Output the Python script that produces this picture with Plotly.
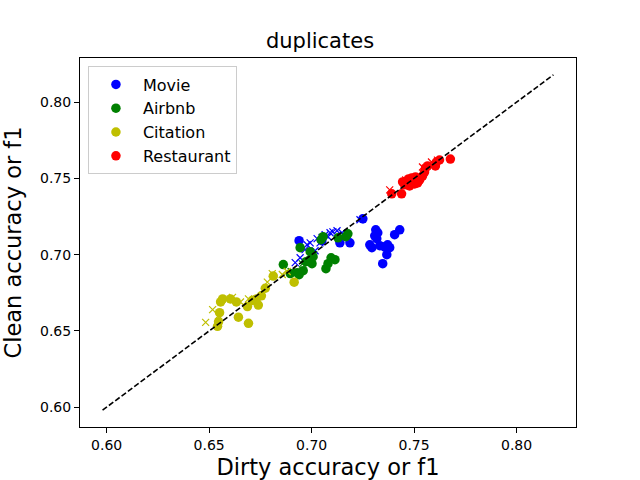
import plotly.graph_objects as go

# Data (dirty, clean) for each dataset: circles and x markers
movie_o_x = [0.7250, 0.7313, 0.7323, 0.7308, 0.7318, 0.7284, 0.7294, 0.7333, 0.7357, 0.7371,
             0.7381, 0.7367, 0.7347, 0.7405, 0.7430, 0.7187, 0.6939, 0.7050, 0.7138]
movie_o_y = [0.7235, 0.7163, 0.7144, 0.7124, 0.7105, 0.7065, 0.7046, 0.7059, 0.7052, 0.7065,
             0.7046, 0.7000, 0.6941, 0.7131, 0.7163, 0.7078, 0.7092, 0.7092, 0.7078]
movie_x_x = [0.6920, 0.6944, 0.6968, 0.6978, 0.6993, 0.7017, 0.7027, 0.7041, 0.7051, 0.7066,
             0.7080, 0.7090, 0.7104, 0.7124, 0.7148, 0.7236]
movie_x_y = [0.6948, 0.6980, 0.7033, 0.7065, 0.7078, 0.7026, 0.7105, 0.7078, 0.7111, 0.7131,
             0.7118, 0.7144, 0.7150, 0.7157, 0.7144, 0.7229]

airbnb_o_x = [0.6862, 0.6896, 0.6930, 0.6939, 0.6959, 0.6973, 0.6993, 0.7002, 0.7007, 0.6993,
              0.7070, 0.7080, 0.7095, 0.7114, 0.7046, 0.7056, 0.7129, 0.7167, 0.7177, 0.6944]
airbnb_o_y = [0.6935, 0.6876, 0.6882, 0.6869, 0.6895, 0.6954, 0.6967, 0.6941, 0.6987, 0.7020,
              0.6908, 0.6941, 0.6980, 0.6967, 0.7098, 0.7118, 0.7111, 0.7118, 0.7137, 0.7046]
airbnb_x_x = [0.6900, 0.6955, 0.7010]
airbnb_x_y = [0.6890, 0.6940, 0.7000]

citation_o_x = [0.6541, 0.6546, 0.6551, 0.6556, 0.6566, 0.6604, 0.6633, 0.6643, 0.6692, 0.6687,
                0.6711, 0.6740, 0.6755, 0.6774, 0.6813, 0.6915, 0.6730]
citation_o_y = [0.6530, 0.6560, 0.6620, 0.6690, 0.6710, 0.6710, 0.6690, 0.6590, 0.6550, 0.6660,
                0.6700, 0.6670, 0.6730, 0.6780, 0.6860, 0.6820, 0.6710]
citation_x_x = [0.6483, 0.6517, 0.6546, 0.6614, 0.6653, 0.6692, 0.6784, 0.6808, 0.6857, 0.6881]
citation_x_y = [0.6556, 0.6640, 0.6600, 0.6720, 0.6690, 0.6710, 0.6820, 0.6876, 0.6870, 0.6890]

rest_o_x = [0.7391, 0.7439, 0.7444, 0.7464, 0.7478, 0.7488, 0.7502, 0.7517, 0.7507, 0.7527,
            0.7541, 0.7551, 0.7556, 0.7566, 0.7604, 0.7609, 0.7624, 0.7677, 0.7454, 0.7473]
rest_o_y = [0.7399, 0.7399, 0.7477, 0.7484, 0.7451, 0.7503, 0.7464, 0.7471, 0.7510, 0.7490,
            0.7516, 0.7542, 0.7569, 0.7582, 0.7582, 0.7608, 0.7621, 0.7627, 0.7458, 0.7497]
rest_x_x = [0.7381, 0.7459, 0.7541, 0.7585, 0.7614]
rest_x_y = [0.7425, 0.7490, 0.7575, 0.7608, 0.7620]

diag = [0.598, 0.818]

names = ["Movie", "Airbnb", "Citation", "Restaurant"]
colors = ["#0000ff", "#008000", "#bfbf00", "#ff0000"]
circles = [(movie_o_x, movie_o_y), (airbnb_o_x, airbnb_o_y),
           (citation_o_x, citation_o_y), (rest_o_x, rest_o_y)]
crosses = [(movie_x_x, movie_x_y), (airbnb_x_x, airbnb_x_y),
           (citation_x_x, citation_x_y), (rest_x_x, rest_x_y)]

fig = go.Figure()
for name, c, (ox, oy), (xx, xy) in zip(names, colors, circles, crosses):
    fig.add_trace(go.Scatter(x=ox, y=oy, mode="markers", name=name,
                             marker=dict(color=c, size=9.5, symbol="circle", line=dict(width=0))))
    fig.add_trace(go.Scatter(x=xx, y=xy, mode="markers", showlegend=False,
                             marker=dict(color=c, size=7, symbol="x-thin",
                                         line=dict(width=1.2, color=c))))

fig.add_trace(go.Scatter(x=diag, y=diag, mode="lines", showlegend=False,
                         line=dict(color="black", width=1.6, dash="5.5px,2.4px")))

axis_common = dict(range=[0.587, 0.829], showgrid=False, zeroline=False,
                   showline=True, linecolor="black", linewidth=1, mirror=True,
                   ticks="outside", ticklen=5, tickcolor="black", automargin=False,
                   tickfont=dict(size=14, color="black"),
                   tickvals=[0.60, 0.65, 0.70, 0.75, 0.80],
                   ticktext=["0.60", "0.65", "0.70", "0.75", "0.80"])

fig.update_layout(
    width=640, height=480,
    margin=dict(l=80, r=64, t=58, b=53),
    paper_bgcolor="white", plot_bgcolor="white",
    font=dict(family="DejaVu Sans", color="black"),
    title=dict(text="duplicates", x=0.5, xanchor="center", y=1 - 41 / 480, yanchor="middle",
               font=dict(size=21, color="black")),
    xaxis=dict(title=dict(text="Dirty accuracy or f1", font=dict(size=22.5), standoff=10), **axis_common),
    yaxis=dict(title=dict(text="Clean accuracy or f1", font=dict(size=22.5), standoff=12), **axis_common),
    legend=dict(x=0.016, y=0.977, xanchor="left", yanchor="top",
                bgcolor="white", bordercolor="#cccccc", borderwidth=1,
                font=dict(size=16, color="black"), tracegroupgap=0, itemwidth=44),
)

fig.write_html("out.html")
